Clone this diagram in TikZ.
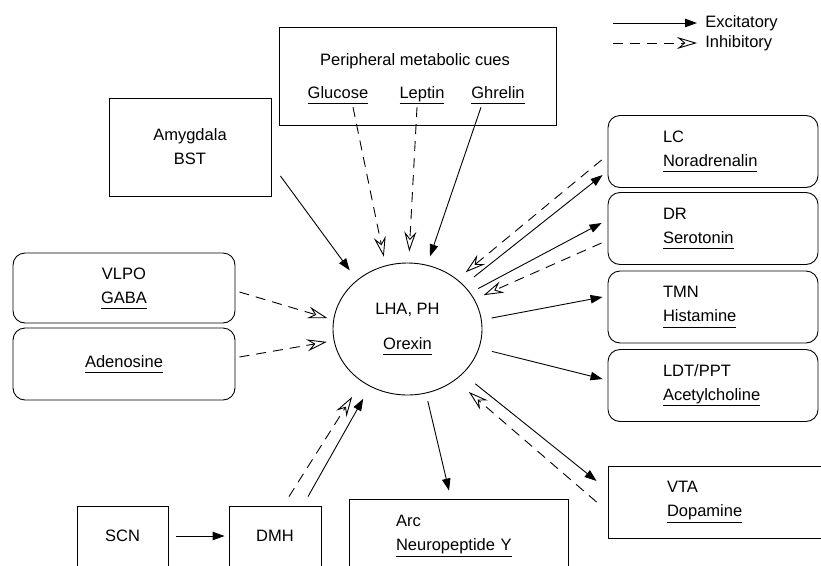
\documentclass[tikz,border=0pt]{standalone}
\usepackage{fontspec}
\setmainfont{Liberation Sans}
\usetikzlibrary{arrows.meta,shapes.geometric}
\newcommand{\undl}[1]{\underline{#1\vphantom{p}}}

\begin{document}
\begin{tikzpicture}[x=1pt,y=-1pt,font=\fontsize{16.5}{24}\selectfont,line width=0.9pt,
  sqbox/.style={draw,rectangle,align=center},
  rbox/.style={draw,rectangle,rounded corners=12pt,align=center},
  sidebox/.style={rbox,minimum width=210pt,minimum height=72pt,text width=100pt,align=left},
  excite/.style={-{Triangle[length=12pt,width=8.5pt]}},
  inhibit/.style={dash pattern=on 10pt off 7pt,-{Stealth[open,length=20pt,width=12pt,inset=7pt]}},
  tipgap/.style={shorten >=#1pt},
  tailgap/.style={shorten <=#1pt}]

\clip (0,0) rectangle (821,565);

\begin{scope}
\node[draw,ellipse,minimum width=149pt,minimum height=132pt,inner sep=0pt,align=center] (orexin) at (407.5,329) {LHA, PH\\[11pt]\undl{Orexin}};

\node[sqbox,minimum width=277pt,minimum height=98pt] (cues) at (417.5,76) {};
\node[anchor=base] (cuetitle) at (415,65) {Peripheral metabolic cues};
\node[anchor=base] (glucose) at (338,98) {\undl{Glucose}};
\node[anchor=base] (leptin) at (422,98) {\undl{Leptin}};
\node[anchor=base] (ghrelin) at (498,98) {\undl{Ghrelin}};

\node[sqbox,minimum width=162pt,minimum height=98pt] (amyg) at (190,147) {Amygdala\\BST};
\node[rbox,minimum width=222pt,minimum height=70pt] (vlpo) at (124,288) {VLPO\\\undl{GABA}};
\node[rbox,minimum width=222pt,minimum height=72pt] (aden) at (124,364) {\undl{Adenosine}};
\node[sqbox,minimum width=91pt,minimum height=60pt] (scn) at (122.5,536) {SCN};
\node[sqbox,minimum width=92pt,minimum height=60pt] (dmh) at (275,536) {DMH};
\node[sqbox,minimum width=219pt,minimum height=74pt,text width=125pt,align=left] (arc) at (458.5,536) {Arc\\\undl{Neuropeptide Y}};

\node[sidebox] (lc) at (713,151.5) {LC\\\undl{Noradrenalin}};
\node[sidebox] (dr) at (713,228.5) {DR\\\undl{Serotonin}};
\node[sidebox] (tmn) at (713,307) {TMN\\\undl{Histamine}};
\node[sidebox] (ldt) at (713,385.5) {LDT/PPT\\\undl{Acetylcholine}};
\node[sqbox,minimum width=218pt,minimum height=72pt,text width=100pt,align=left] (vta) at (717,502) {VTA\\\undl{Dopamine}};
\end{scope}

% legend
\coordinate (excstart) at (613,23);
\coordinate (inhstart) at (613,43);
\node[anchor=west] (exctxt) at (701.5,23) {Excitatory};
\node[anchor=west] (inhtxt) at (701.5,43) {Inhibitory};
\draw[excite,tipgap=4.5] (excstart) -- (exctxt.west);
\draw[inhibit,tipgap=4.5] (inhstart) -- (inhtxt.west);

% inputs to orexin
\draw[inhibit,tipgap=9] ([xshift=15pt]glucose.south) -- (orexin.109);
\draw[inhibit,tipgap=11] ([xshift=-5pt]leptin.south) -- (orexin.89);
\draw[excite,tipgap=9] ([xshift=-17pt]ghrelin.south) -- (orexin.73);
\draw[excite,tipgap=12] ([shift={(9,29)}]amyg.east) -- (orexin.136);
\draw[inhibit,tipgap=6] ([shift={(4,4)}]vlpo.east) -- (orexin.173);
\draw[inhibit,tipgap=7] ([shift={(4,-7)}]aden.east) -- (orexin.189);
\draw[excite,tipgap=14] ([shift={(33,-9)}]dmh.north) -- (orexin.237);
\draw[inhibit,tipgap=18] ([shift={(14,-9)}]dmh.north) -- (orexin.229);
\draw[excite,tailgap=8,tipgap=4] (scn) -- (dmh);

% outputs and feedback
\draw[excite,tailgap=8] (orexin.286) -- ([shift={(-9.5,-8)}]arc.north);
\draw[excite,tailgap=13] (orexin.38) -- ([shift={(-5,23.5)}]lc.west);
\draw[inhibit,tipgap=11] ([shift={(-6,8.5)}]lc.west) -- (orexin.45);
\draw[excite,tailgap=9] (orexin.30) -- ([shift={(-6,-5.5)}]dr.west);
\draw[inhibit,tipgap=10] ([shift={(-6,14.5)}]dr.west) -- (orexin.24);
\draw[excite,tailgap=10] (orexin.7) -- ([shift={(-5,-10)}]tmn.west);
\draw[excite,tailgap=13] (orexin.345) -- ([shift={(-5,-6.5)}]ldt.west);
\draw[excite,tailgap=16] (orexin.321) -- ([shift={(-11,-21)}]vta.west);
\draw[inhibit,tipgap=18] ([shift={(-11,0)}]vta.west) -- (orexin.313);

\end{tikzpicture}
\end{document}
